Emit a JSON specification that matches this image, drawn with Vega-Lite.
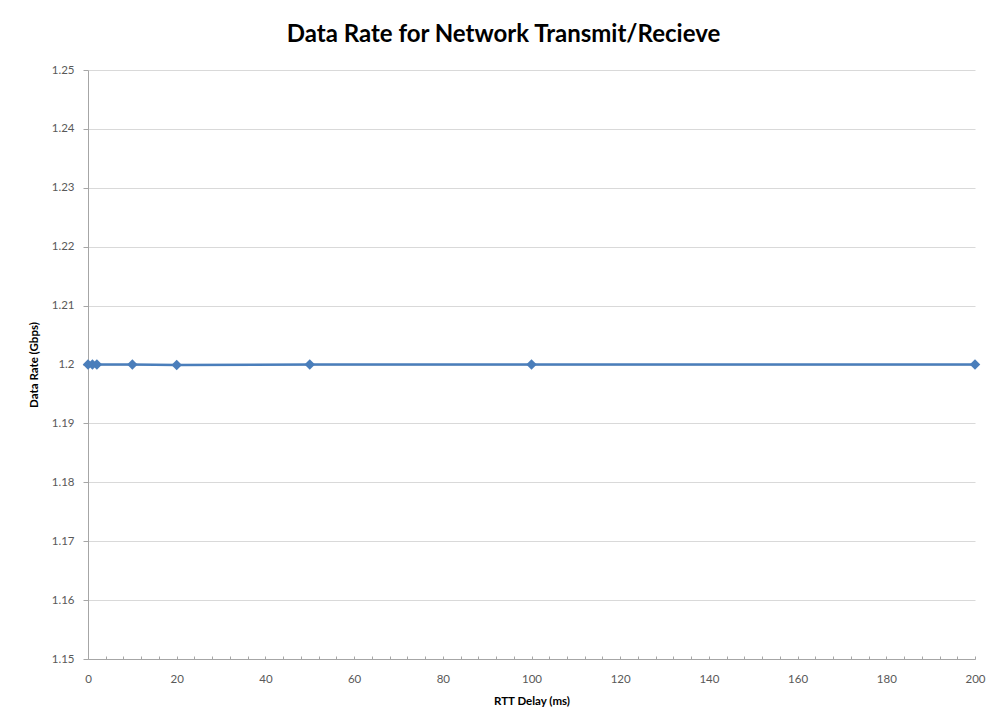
{
  "$schema": "https://vega.github.io/schema/vega-lite/v6.json",
  "autosize": {"type": "none"},
  "width": 887,
  "height": 589,
  "padding": {"left": 88, "top": 70, "right": 14, "bottom": 64},
  "background": "white",
  "title": {
    "text": "Data Rate for Network Transmit/Recieve",
    "font": "Lato",
    "fontSize": 24,
    "fontWeight": "bold",
    "color": "#000000",
    "anchor": "middle",
    "offset": 17,
    "dx": -28
  },
  "config": {
    "view": {"stroke": null},
    "axis": {
      "labelFont": "Lato",
      "titleFont": "Lato",
      "labelColor": "#595959",
      "titleColor": "#000000",
      "labelFontSize": 11.5,
      "titleFontSize": 11.5,
      "titleFontWeight": "bold",
      "domainColor": "#a6a6a6",
      "tickColor": "#a6a6a6",
      "gridColor": "#d9d9d9"
    }
  },
  "data": {
    "values": [
      {"delay": 0, "rate": 1.2},
      {"delay": 1, "rate": 1.2},
      {"delay": 2, "rate": 1.2},
      {"delay": 10, "rate": 1.2},
      {"delay": 20, "rate": 1.1999},
      {"delay": 50, "rate": 1.2},
      {"delay": 100, "rate": 1.2},
      {"delay": 200, "rate": 1.2}
    ]
  },
  "mark": {
    "type": "line",
    "color": "#4a7ebb",
    "strokeWidth": 2.5,
    "point": {"shape": "diamond", "size": 110, "filled": true, "color": "#4a7ebb", "opacity": 1}
  },
  "encoding": {
    "x": {
      "field": "delay",
      "type": "quantitative",
      "scale": {"domain": [0, 200], "nice": false, "zero": false},
      "axis": {
        "title": "RTT Delay (ms)",
        "grid": false,
        "values": [0, 4, 8, 12, 16, 20, 24, 28, 32, 36, 40, 44, 48, 52, 56, 60, 64, 68, 72, 76, 80, 84, 88, 92, 96, 100, 104, 108, 112, 116, 120, 124, 128, 132, 136, 140, 144, 148, 152, 156, 160, 164, 168, 172, 176, 180, 184, 188, 192, 196, 200],
        "labelExpr": "datum.value % 20 === 0 ? datum.label : ''",
        "labelFlush": false,
        "labelOverlap": false,
        "tickSize": -3,
        "labelPadding": 17,
        "titlePadding": 11
      }
    },
    "y": {
      "field": "rate",
      "type": "quantitative",
      "scale": {"domain": [1.15, 1.25], "nice": false, "zero": false},
      "axis": {
        "title": "Data Rate (Gbps)",
        "values": [1.15, 1.16, 1.17, 1.18, 1.19, 1.2, 1.21, 1.22, 1.23, 1.24, 1.25],
        "format": ".2~f",
        "tickSize": 5,
        "labelPadding": 9,
        "titlePadding": 12,
        "labelOverlap": false
      }
    }
  }
}
